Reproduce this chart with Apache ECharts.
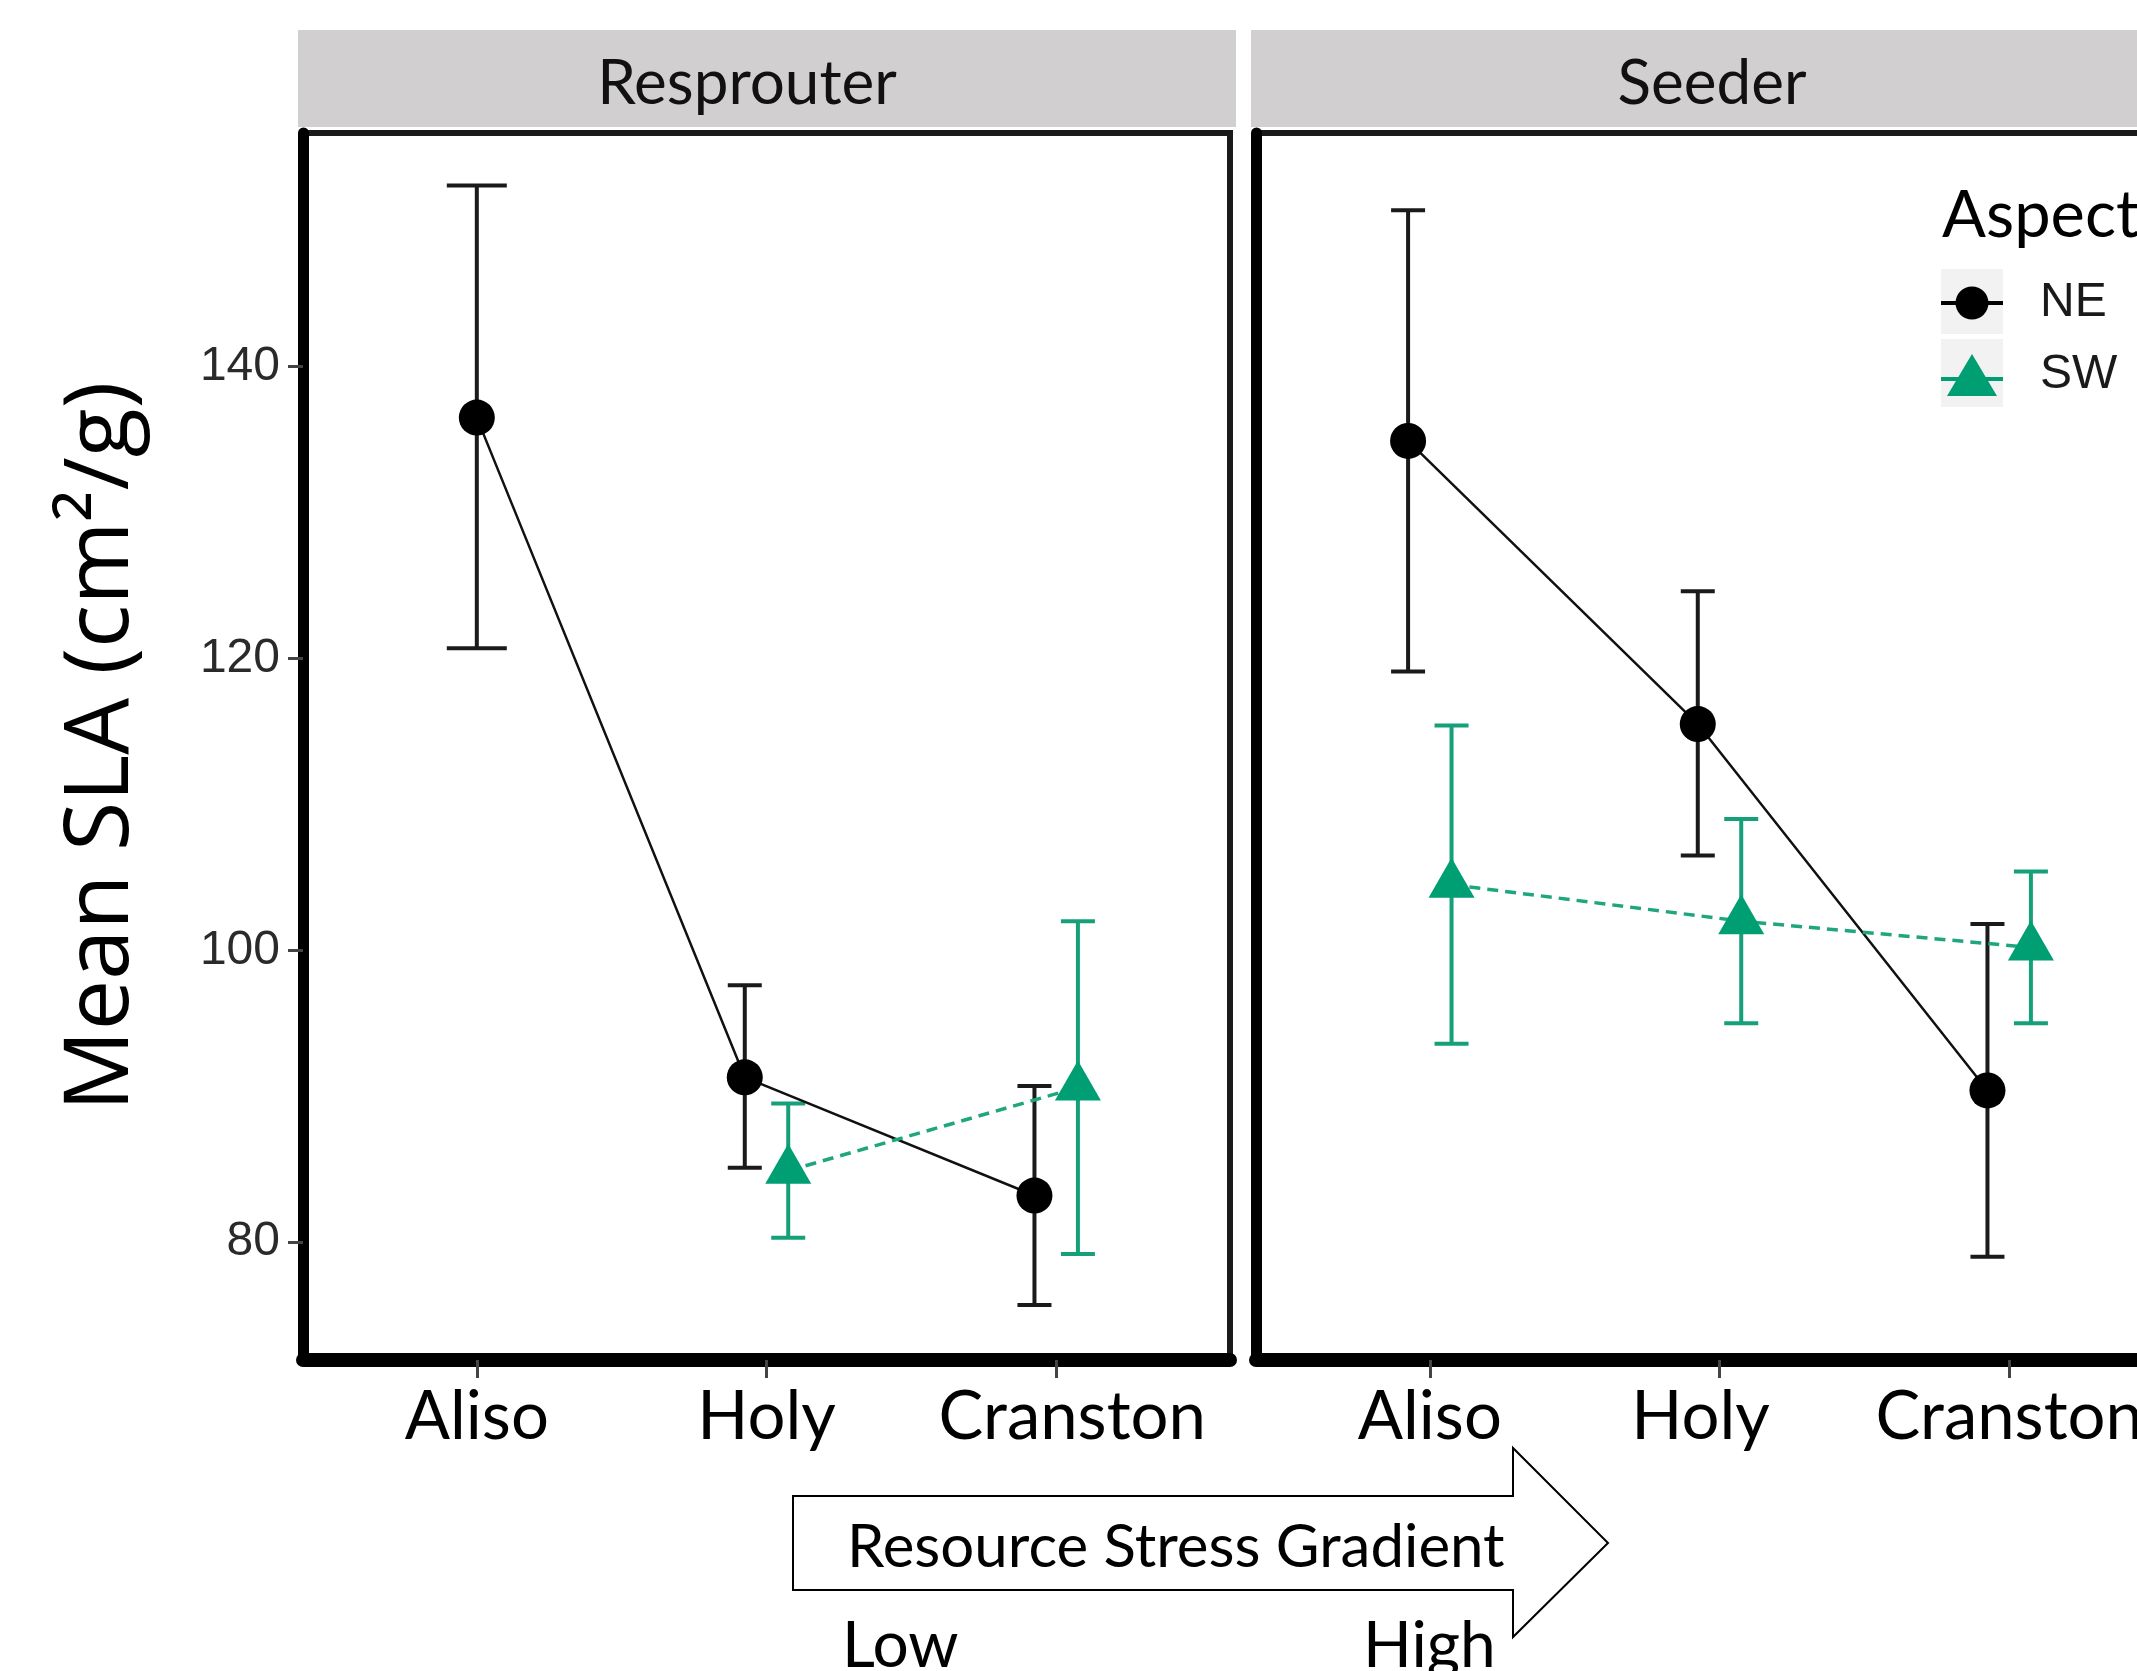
<!DOCTYPE html>
<html><head><meta charset="utf-8">
<script src="https://cdn.jsdelivr.net/npm/echarts@6/dist/echarts.min.js"></script>
<style>html,body{margin:0;padding:0;background:#fff}#c{width:2137px;height:1671px}</style>
</head><body><div id="c"></div>
<script>
// ---- data ----
const categories = ['Aliso', 'Holy', 'Cranston'];
const panels = ['Resprouter', 'Seeder'];
const aspects = ['NE', 'SW'];
const yTicks = [80, 100, 120, 140];

const resprouterNE     = [136.5, 91.3, 83.2];
const resprouterNELow  = [120.7, 85.1, 75.7];
const resprouterNEHigh = [152.4, 97.6, 90.7];
const resprouterSW     = [null, 84.9, 90.6];
const resprouterSWLow  = [null, 80.3, 79.2];
const resprouterSWHigh = [null, 89.5, 102.0];

const seederNE     = [134.9, 115.5, 90.4];
const seederNELow  = [119.1, 106.5, 79.0];
const seederNEHigh = [150.7, 124.6, 101.8];
const seederSW     = [104.5, 102.0, 100.2];
const seederSWLow  = [93.6, 95.0, 95.0];
const seederSWHigh = [115.4, 109.0, 105.4];

// ---- build ----
const panelData = [
  { NE: { m: resprouterNE, lo: resprouterNELow, hi: resprouterNEHigh },
    SW: { m: resprouterSW, lo: resprouterSWLow, hi: resprouterSWHigh } },
  { NE: { m: seederNE, lo: seederNELow, hi: seederNEHigh },
    SW: { m: seederSW, lo: seederSWLow, hi: seederSWHigh } }
];
const DODGE = 0.075;
const pointColor = { NE: '#000000', SW: '#009E73' };
const barColor = { NE: '#1a1a1a', SW: '#16A07A' };

const barSeries = [], lineSeries = [];
panelData.forEach((pd, p) => {
  aspects.forEach((a, ai) => {
    const other = pd[aspects[1 - ai]];
    const pts = [], bars = [];
    pd[a].m.forEach((v, i) => {
      if (v == null) return;
      const dodged = other.m[i] != null;
      const x = i + 1 + (dodged ? (a === 'NE' ? -DODGE : DODGE) : 0);
      pts.push([x, v]);
      bars.push([x, pd[a].lo[i], pd[a].hi[i], dodged ? 17 : 30]);
    });
    const col = barColor[a];
    barSeries.push({
      type: 'custom', xAxisIndex: p, yAxisIndex: p, data: bars, z: 2, silent: true, clip: false,
      renderItem: function (params, api) {
        const x = api.value(0), half = api.value(3);
        const pl = api.coord([x, api.value(1)]);
        const ph = api.coord([x, api.value(2)]);
        const st = { stroke: col, lineWidth: 4 };
        return { type: 'group', children: [
          { type: 'line', shape: { x1: pl[0], y1: pl[1], x2: ph[0], y2: ph[1] }, style: st },
          { type: 'line', shape: { x1: pl[0] - half, y1: pl[1], x2: pl[0] + half, y2: pl[1] }, style: st },
          { type: 'line', shape: { x1: ph[0] - half, y1: ph[1], x2: ph[0] + half, y2: ph[1] }, style: st }
        ]};
      }
    });
    lineSeries.push({
      type: 'line', name: a, xAxisIndex: p, yAxisIndex: p, data: pts, z: 3,
      symbol: a === 'NE' ? 'circle' : 'triangle',
      symbolSize: a === 'NE' ? 36 : [46, 40],
      symbolOffset: a === 'NE' ? [0, 0] : [0, -7],
      itemStyle: { color: pointColor[a], opacity: 1 },
      lineStyle: a === 'NE'
        ? { color: '#111', width: 2.5, type: 'solid' }
        : { color: '#1FA67F', width: 3.5, type: [11, 7] },
      emphasis: { disabled: true }
    });
  });
});

const GRID_TOP = 133, GRID_H = 1227, GRID_W = 927;
const gridLefts = [303, 1256];

// the category captions in the original were hand-placed: small nudges per panel
const labelFont = { fontFamily: 'Lato', fontSize: 67, color: '#000' };
const labelRich = [
  { a: labelFont, b: labelFont, c: Object.assign({ padding: [0, 0, 0, 32] }, labelFont) },
  { a: labelFont, b: Object.assign({ padding: [0, 38, 0, 0] }, labelFont), c: labelFont }
];

function xAxisFor(p) {
  return {
    type: 'value', gridIndex: p, min: 0.4, max: 3.6,
    splitLine: { show: false },
    axisLine: { show: true, onZero: false, lineStyle: { color: '#000', width: 14 } },
    axisTick: { show: true, customValues: [1, 2, 3], length: 18, lineStyle: { color: '#444', width: 3 } },
    axisLabel: { customValues: [1, 2, 3],
      formatter: v => { const i = Math.round(v) - 1; return '{' + 'abc'[i] + '|' + categories[i] + '}'; },
      rich: labelRich[p],
      margin: 24, fontFamily: 'Lato', fontSize: 67, color: '#000' }
  };
}
function yAxisFor(p) {
  const ax = {
    type: 'value', gridIndex: p, min: 71.93, max: 156.0,
    splitLine: { show: false },
    axisLine: { show: true, lineStyle: { color: '#000', width: 11 } },
    axisTick: { show: p === 0, customValues: yTicks, length: 15, lineStyle: { color: '#444', width: 3 } },
    axisLabel: { show: p === 0, customValues: yTicks, margin: 23, fontFamily: 'Liberation Sans', fontSize: 48, color: '#2a2a2a' }
  };
  if (p === 0) {
    ax.name = 'Mean SLA (cm\u00B2/g)';
    ax.nameLocation = 'middle';
    ax.nameRotate = 90;
    ax.nameGap = 156;
    ax.nameTextStyle = { fontFamily: 'Open Sans', fontSize: 90, color: '#000' };
  }
  return ax;
}

const stripFill = '#D1CFD0';
const graphics = [
  { type: 'rect', shape: { x: 298, y: 30, width: 938, height: 97 }, style: { fill: stripFill }, z: 1 },
  { type: 'rect', shape: { x: 1251, y: 30, width: 938, height: 97 }, style: { fill: stripFill }, z: 1 },
  { type: 'text', x: 747, y: 84, style: { text: panels[0], font: '62px Lato', fill: '#111', align: 'center', verticalAlign: 'middle' }, z: 2 },
  { type: 'text', x: 1712, y: 84, style: { text: panels[1], font: '62px Lato', fill: '#111', align: 'center', verticalAlign: 'middle' }, z: 2 },
  { type: 'rect', shape: { x: 1941, y: 269, width: 62, height: 65 }, style: { fill: '#F2F2F2' }, z: 1 },
  { type: 'rect', shape: { x: 1941, y: 339, width: 62, height: 68 }, style: { fill: '#F2F2F2' }, z: 1 },
  { type: 'text', x: 1942, y: 184, style: { text: 'Aspect', font: '65px Lato', fill: '#000', align: 'left', verticalAlign: 'top' }, z: 2 },
  { type: 'polygon', shape: { points: [[793, 1496], [1513, 1496], [1513, 1448], [1608, 1543], [1513, 1637], [1513, 1590], [793, 1590]] },
    style: { fill: '#fff', stroke: '#000', lineWidth: 2 }, z: 1 },
  { type: 'text', x: 847, y: 1548, style: { text: 'Resource Stress Gradient', font: '60px Lato', fill: '#000', align: 'left', verticalAlign: 'middle' }, z: 2 },
  { type: 'text', x: 842, y: 1614, style: { text: 'Low', font: '64px Lato', fill: '#000', align: 'left', verticalAlign: 'top' }, z: 2 },
  { type: 'text', x: 1363, y: 1614, style: { text: 'High', font: '64px Lato', fill: '#000', align: 'left', verticalAlign: 'top' }, z: 2 }
];

// legend icons: line + symbol, filled with the series colour
const iconNE = 'path://M0,23L15,23L15,27L0,27Z M47,23L62,23L62,27L47,27Z M14.5,25A16.5,16.5 0 1 1 47.5,25A16.5,16.5 0 1 1 14.5,25Z';
const iconSW = 'path://M31,0L56,42L6,42Z M0,23L18,23L18,27L0,27Z M44,23L62,23L62,27L44,27Z';

const chart = echarts.init(document.getElementById('c'), null, { renderer: 'canvas' });
chart.setOption({
  animation: false,
  backgroundColor: '#fff',
  grid: gridLefts.map(l => ({ left: l, top: GRID_TOP, width: GRID_W, height: GRID_H,
    outerBoundsMode: 'none', containLabel: false,
    show: true, borderColor: '#1a1a1a', borderWidth: 6, backgroundColor: 'transparent' })),
  xAxis: [xAxisFor(0), xAxisFor(1)],
  yAxis: [yAxisFor(0), yAxisFor(1)],
  legend: {
    data: [{ name: 'NE', icon: iconNE }, { name: 'SW', icon: iconSW }],
    orient: 'vertical', left: 1941, top: 278, padding: 0,
    itemWidth: 62, itemHeight: 50, itemGap: 22, symbolKeepAspect: true,
    textStyle: { fontFamily: 'Liberation Sans', fontSize: 48, color: '#1a1a1a', padding: [0, 0, 0, 32], lineHeight: 50 },
    selectedMode: false
  },
  graphic: { elements: graphics },
  series: barSeries.concat(lineSeries)
});
</script></body></html>
